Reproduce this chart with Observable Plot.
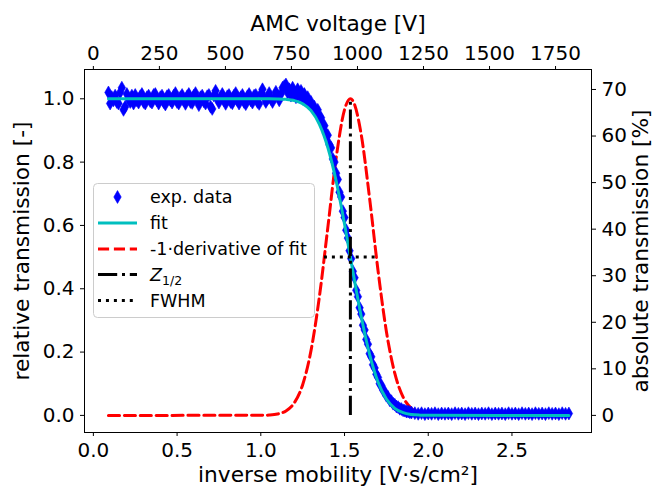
<!DOCTYPE html>
<html>
<head>
<meta charset="utf-8">
<script src="https://cdn.jsdelivr.net/npm/d3@7"></script>
<script src="https://cdn.jsdelivr.net/npm/@observablehq/plot@0.6"></script>
<style>
html,body{margin:0;padding:0;background:#fff;}
#chart{position:relative;width:656px;height:488px;}
</style>
</head>
<body>
<div id="chart"></div>
<script>
// ---------- data ----------
const expX = [
0.09,0.10,0.11,0.12,0.13,0.14,0.15,0.16,0.17,0.18,0.19,0.20,0.21,0.22,0.23,0.24,0.25,0.26,0.27,0.28,
0.29,0.30,0.31,0.32,0.33,0.34,0.35,0.36,0.37,0.38,0.39,0.40,0.41,0.42,0.43,0.44,0.45,0.46,0.47,0.48,
0.49,0.50,0.51,0.52,0.53,0.54,0.55,0.56,0.57,0.58,0.59,0.60,0.61,0.62,0.63,0.64,0.65,0.66,0.67,0.68,
0.69,0.70,0.71,0.72,0.73,0.74,0.75,0.76,0.77,0.78,0.79,0.80,0.81,0.82,0.83,0.84,0.85,0.86,0.87,0.88,
0.89,0.90,0.91,0.92,0.93,0.94,0.95,0.96,0.97,0.98,0.99,1.00,1.01,1.02,1.03,1.04,1.05,1.06,1.07,1.08,
1.09,1.10,1.11,1.12,1.13,1.14,1.15,1.16,1.17,1.18,1.19,
1.20,1.21,1.22,1.23,1.24,1.25,1.26,1.27,1.28,1.29,
1.30,1.31,1.32,1.33,1.34,1.35,1.36,1.37,1.38,1.39,
1.40,1.41,1.42,1.43,1.44,1.45,1.46,1.47,1.48,1.49,
1.50,1.51,1.52,1.53,1.54,1.55,1.56,1.57,1.58,1.59,
1.60,1.61,1.62,1.63,1.64,1.65,1.66,1.67,1.68,1.69,
1.70,1.71,1.72,1.73,1.74,1.75,1.76,1.77,1.78,1.79,
1.80,1.81,1.82,1.83,1.84,1.85,1.86,1.87,1.88,1.89,1.90,
1.92,1.94,1.96,1.98,2.00,2.02,2.04,2.06,2.08,2.10,2.12,2.14,2.16,2.18,2.20,2.22,2.24,2.26,2.28,2.30,
2.32,2.34,2.36,2.38,2.40,2.42,2.44,2.46,2.48,2.50,2.52,2.54,2.56,2.58,2.60,2.62,2.64,2.66,2.68,2.70,
2.72,2.74,2.76,2.78,2.80,2.82,2.84
];
const expY = [
1.02,0.985,1.005,0.995,1.01,0.99,0.985,1.02,1.035,0.965,0.975,1.015,1.0,0.99,1.01,0.985,1.012,0.995,0.988,1.008,
1.015,0.99,0.985,1.005,1.01,0.992,0.988,1.012,1.015,0.995,0.985,1.005,1.01,0.99,0.982,1.008,1.012,0.995,0.988,1.01,
1.018,0.99,0.985,1.005,1.012,0.995,0.984,1.008,1.015,0.99,0.987,1.01,1.018,0.995,0.98,1.005,1.01,0.992,0.985,1.008,
1.012,0.975,0.968,1.01,1.025,1.0,0.988,1.005,1.015,0.995,0.984,1.008,1.012,0.99,0.986,1.01,1.018,0.995,0.985,1.005,
1.012,0.99,0.983,1.008,1.015,0.995,0.988,1.01,1.012,0.99,0.984,1.015,1.03,1.005,0.99,1.0,1.018,1.0,0.99,1.005,
1.022,1.01,0.995,1.015,1.035,1.04,1.045,1.02,1.03,1.01,1.035,
1.02,1.005,1.03,1.01,1.025,1.00,1.015,0.995,1.005,0.985,
0.99,0.975,0.975,0.96,0.965,0.945,0.94,0.92,0.915,0.89,
0.885,0.855,0.845,0.81,0.80,0.765,0.745,0.705,0.69,0.645,
0.625,0.585,0.56,0.52,0.495,0.455,0.435,0.395,0.375,0.34,
0.32,0.285,0.27,0.24,0.225,0.195,0.185,0.16,0.15,0.13,
0.12,0.10,0.095,0.08,0.075,0.062,0.058,0.048,0.045,0.037,
0.034,0.028,0.026,0.021,0.02,0.016,0.015,0.012,0.012,0.01,0.009,
0.007,0.005,0.007,0.004,0.006,0.005,0.007,0.004,0.006,0.005,
0.006,0.004,0.007,0.005,0.006,0.004,0.007,0.005,0.006,0.004,
0.006,0.005,0.007,0.004,0.006,0.005,0.006,0.004,0.007,0.005,
0.006,0.004,0.007,0.005,0.006,0.004,0.007,0.005,0.006,0.004,
0.007,0.005,0.006,0.004,0.007,0.005,0.006
];
const fitX = [0.09,1.00,1.05,1.10,1.15,1.20,1.25,1.30,1.35,1.40,1.45,1.50,1.55,1.60,1.65,1.70,1.75,1.80,1.85,1.90,1.95,2.00,2.84];
const fitY = [1.0,1.0,0.9999,0.9995,0.9982,0.9944,0.9846,0.9625,0.9195,0.8468,0.7402,0.6045,0.4546,0.3114,0.1919,0.1056,0.0517,0.0223,0.0085,0.0028,0.0008,0.0002,0.0];
const derX = [0.09,1.00,1.05,1.10,1.15,1.20,1.25,1.30,1.35,1.40,1.45,1.50,1.535,1.55,1.60,1.65,1.70,1.75,1.80,1.85,1.90,1.95,2.00,2.10,2.84];
const derY = [0.0,0.0003,0.0012,0.0043,0.0142,0.0398,0.0970,0.2053,0.3753,0.5925,0.8128,0.9655,1.0,0.9935,0.8860,0.6842,0.4578,0.2653,0.1332,0.0579,0.0218,0.0072,0.002,0.0001,0.0];
const zHalf = 1.535;
const fwhmRange = [1.380, 1.690];
const bottomTicks = [0.0,0.5,1.0,1.5,2.0,2.5];
const leftTicks = [0.0,0.2,0.4,0.6,0.8,1.0];
const voltTicks = [0,250,500,750,1000,1250,1500,1750];
const pctTicks = [0,10,20,30,40,50,60,70];
const voltPerMobility = 634;   // top axis: AMC voltage = 634 · inverse mobility
const pctPerRelative = 68;     // right axis: absolute % = 68 · relative
const legendItems = ["exp. data","fit","-1·derivative of fit","Z","FWHM"];

// ---------- tables ----------
const exp = expX.map((x,i)=>({x, y: expY[i]}));
const fit = fitX.map((x,i)=>({x, y: fitY[i]}));
const der = derX.map((x,i)=>({x, y: derY[i]}));

const FONT = "DejaVu Sans, sans-serif";
const axisCommon = {tickSize:4, tickPadding:6, fontSize:20, stroke:"black", strokeWidth:1, label:null};
const DOT_R = 3.9;
const LABEL_SIZE = 21.7;

const plot = Plot.plot({
  width:656, height:488,
  marginLeft:84, marginRight:65, marginTop:69, marginBottom:56,
  x:{domain:[-0.053,2.975]},
  y:{domain:[-0.054,1.0925]},
  style:{fontFamily:FONT, fontSize:"20px", color:"black", background:"white", overflow:"visible"},
  marks:[
    Plot.line(der, {x:"x", y:"y", stroke:"red", strokeWidth:3, strokeDasharray:"11.1,4.8", curve:"monotone-x"}),
    Plot.dot(exp, {x:"x", y:"y", symbol:"diamond", r:DOT_R, fill:"blue", stroke:"blue", strokeWidth:0.6}),
    Plot.line(fit, {x:"x", y:"y", stroke:"#00bfbf", strokeWidth:3, curve:"monotone-x"}),
    Plot.ruleX([zHalf], {y1:0, y2:1, stroke:"black", strokeWidth:3, strokeDasharray:"19.2,4.8,3,4.8"}),
    Plot.ruleY([0.5], {x1:fwhmRange[0], x2:fwhmRange[1], stroke:"black", strokeWidth:3, strokeDasharray:"3,4.95"}),
    Plot.frame({stroke:"black", strokeWidth:1}),
    Plot.axisX(bottomTicks, {...axisCommon, anchor:"bottom", tickFormat:d3.format(".1f")}),
    Plot.axisX(voltTicks.map(v=>v/voltPerMobility), {...axisCommon, anchor:"top", tickFormat:d=>String(Math.round(d*voltPerMobility))}),
    Plot.axisY(leftTicks, {...axisCommon, anchor:"left", tickFormat:d3.format(".1f")}),
    Plot.axisY(pctTicks.map(p=>p/pctPerRelative), {...axisCommon, anchor:"right", tickFormat:d=>String(Math.round(d*pctPerRelative))}),
    Plot.text(["inverse mobility [V·s/cm²]"], {text:d=>d, frameAnchor:"bottom", dy:43, fontSize:LABEL_SIZE, lineAnchor:"middle", textAnchor:"middle"}),
    Plot.text(["AMC voltage [V]"], {text:d=>d, frameAnchor:"top", dy:-45, fontSize:LABEL_SIZE, lineAnchor:"middle", textAnchor:"middle"}),
    Plot.text(["relative transmission [-]"], {text:d=>d, frameAnchor:"left", dx:-62, rotate:-90, fontSize:LABEL_SIZE, lineAnchor:"middle", textAnchor:"middle"}),
    Plot.text(["absolute transmission [%]"], {text:d=>d, frameAnchor:"right", dx:50, rotate:-90, fontSize:LABEL_SIZE, lineAnchor:"middle", textAnchor:"middle"})
  ]
});
document.getElementById("chart").appendChild(plot);

// ---------- legend (inside the axes) ----------
const svg = d3.select(plot);
const lg = svg.append("g").attr("font-family", FONT).attr("font-size", 17.5).attr("fill", "black").attr("text-anchor", "start");
lg.append("rect").attr("x", 93.5).attr("y", 183.5).attr("width", 221).attr("height", 134)
  .attr("rx", 4).attr("fill", "white").attr("fill-opacity", 0.8).attr("stroke", "#cccccc");
const rowY = [197, 223, 249, 274.5, 300.5];
const hx0 = 98, hx1 = 137, tx = 150;
lg.append("path").attr("d", d3.symbol(d3.symbolDiamond, DOT_R * DOT_R * Math.PI)())
  .attr("transform", `translate(117.5,${rowY[0]})`).attr("fill", "blue").attr("stroke", "blue").attr("stroke-width", 0.6);
const handle = (y, stroke, dash) => lg.append("line").attr("x1", hx0).attr("x2", hx1).attr("y1", y).attr("y2", y)
  .attr("stroke", stroke).attr("stroke-width", 3).attr("stroke-dasharray", dash);
handle(rowY[1], "#00bfbf", null);
handle(rowY[2], "red", "11.1,4.8");
handle(rowY[3], "black", "19.2,4.8,3,4.8");
handle(rowY[4], "black", "3,4.95");
legendItems.forEach((t, i) => {
  const el = lg.append("text").attr("x", tx).attr("y", rowY[i]).attr("dy", "0.35em").attr("text-anchor", "start");
  if (t === "Z") {
    el.append("tspan").attr("font-style", "italic").text("Z");
    el.append("tspan").attr("font-size", 12.5).attr("dy", "0.35em").text("1/2");
  } else {
    el.text(t);
  }
});
</script>
</body>
</html>
